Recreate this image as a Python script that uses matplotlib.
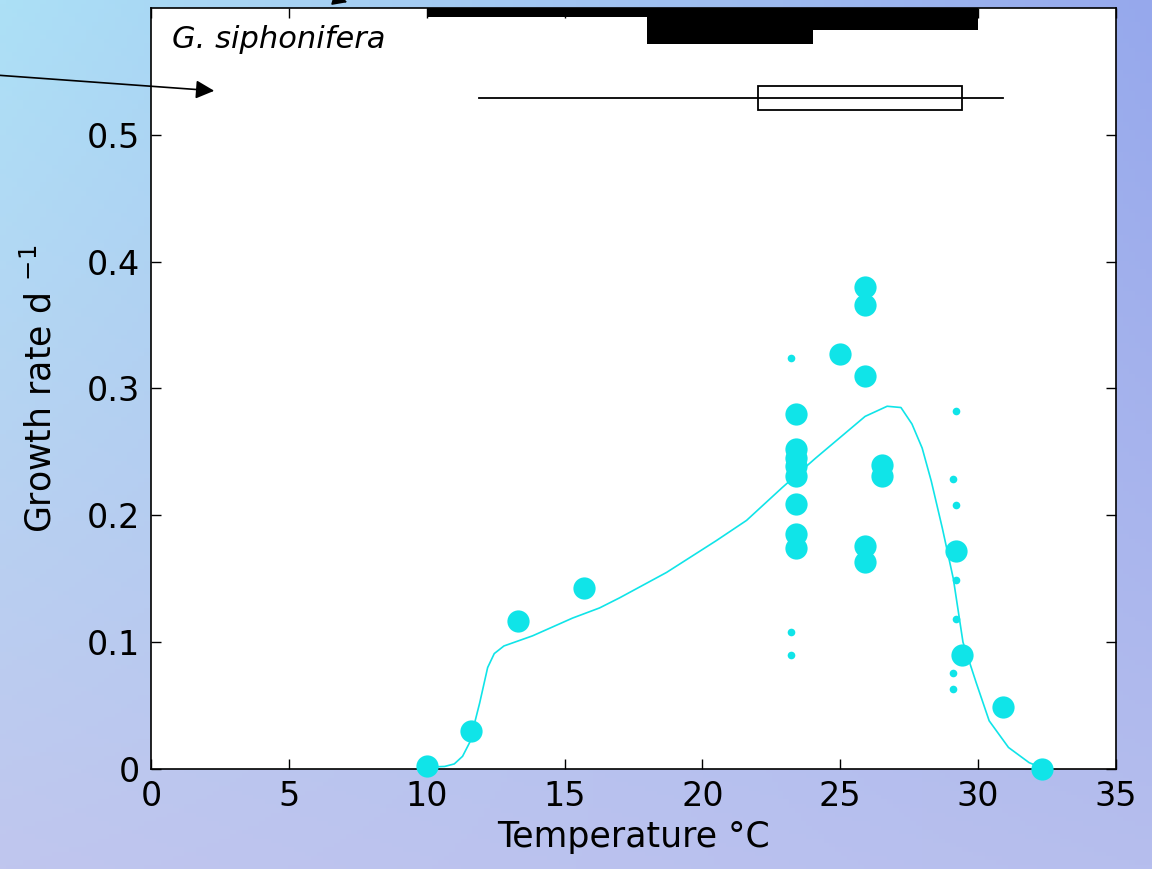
import numpy as np
import matplotlib.pyplot as plt
from matplotlib.patches import Rectangle

# growth measurements, big symbols
big_temp = [10.0, 11.6, 13.3, 15.7,
            23.4, 23.4, 23.4, 23.4, 23.4, 23.4, 23.4, 23.4,
            25.0, 25.9, 25.9, 25.9, 25.9, 25.9,
            26.5, 26.5, 29.2, 29.4, 30.9, 32.3]
big_rate = [0.002, 0.030, 0.117, 0.143,
            0.280, 0.252, 0.245, 0.239, 0.231, 0.209, 0.185, 0.174,
            0.327, 0.380, 0.366, 0.310, 0.176, 0.163,
            0.240, 0.231, 0.172, 0.090, 0.049, 0.000]

# small symbols
small_temp = [23.2, 23.2, 23.2, 29.2, 29.1, 29.2, 29.2, 29.2, 29.1, 29.1]
small_rate = [0.324, 0.108, 0.090, 0.282, 0.229, 0.208, 0.149, 0.118, 0.076, 0.063]

# fitted growth curve
fit_temp = [10.0, 10.65, 11.0, 11.3, 11.56, 11.92, 12.21, 12.45, 12.8, 13.84, 15.29, 16.27,
            17.0, 18.7, 20.5, 21.6, 22.9, 24.1, 25.9, 26.7, 27.2, 27.6, 27.97,
            28.3, 28.7, 29.1, 29.45, 29.93, 30.4, 31.1, 31.85, 32.3]
fit_rate = [0.0015, 0.002, 0.004, 0.010, 0.021, 0.052, 0.080, 0.091, 0.097, 0.105, 0.119, 0.127,
            0.135, 0.155, 0.180, 0.196, 0.222, 0.245, 0.278, 0.286, 0.285, 0.272, 0.253,
            0.227, 0.190, 0.150, 0.100, 0.068, 0.038, 0.017, 0.005, 0.001]

# black bars along the top edge
bar_left = [10, 18, 24]
bar_right = [18, 24, 30]
bar_bottom = [0.593, 0.572, 0.583]

# box plot of temperature range
whisk_lo, box_lo, box_hi, whisk_hi = 11.9, 22.0, 29.4, 30.9
box_y, box_h = 0.529, 0.019

xticks = [0, 5, 10, 15, 20, 25, 30, 35]
yticks = [0, 0.1, 0.2, 0.3, 0.4, 0.5]

cyan = '#10e4e8'

fig = plt.figure(figsize=(11.52, 8.69), dpi=100)

# slide-like gradient background
bg = fig.add_axes([0, 0, 1, 1], zorder=-5)
tl = np.array([172, 224, 246]) / 255
tr = np.array([150, 168, 236]) / 255
bl = np.array([192, 198, 238]) / 255
br = np.array([182, 190, 238]) / 255
u = np.linspace(0, 1, 200)[None, :, None]
v = np.linspace(0, 1, 200)[:, None, None]
grad = (1 - v) * ((1 - u) * tl + u * tr) + v * ((1 - u) * bl + u * br)
bg.imshow(grad, aspect='auto', extent=[0, 1, 0, 1])
bg.axis('off')

ax = fig.add_axes([151 / 1152, 100 / 869, 965 / 1152, 761 / 869])
ax.set_facecolor('white')

ax.plot(fit_temp, fit_rate, color=cyan, lw=1.2, zorder=3)
ax.plot(big_temp, big_rate, 'o', color=cyan, ms=16, mec='none', zorder=4, clip_on=False)
ax.plot(small_temp, small_rate, 'o', color=cyan, ms=5.5, mec='none', zorder=4)

for l, r, b in zip(bar_left, bar_right, bar_bottom):
    ax.bar(l, 0.6 - b, width=r - l, bottom=b, align='edge', color='black', zorder=5)

ax.plot([whisk_lo, whisk_hi], [box_y, box_y], color='black', lw=1.3)
ax.add_patch(Rectangle((box_lo, box_y - box_h / 2), box_hi - box_lo, box_h,
                       fill=False, ec='black', lw=1.3))

ax.text(0.75, 0.575, 'G. siphonifera', fontsize=22, style='italic', va='center')

ax.set_xlim(0, 35)
ax.set_ylim(0, 0.6)
ax.set_xticks(xticks)
ax.set_yticks(yticks)
ax.set_xticklabels([str(t) for t in xticks])
ax.set_yticklabels(['0', '0.1', '0.2', '0.3', '0.4', '0.5'])
ax.tick_params(direction='in', top=True, right=True, length=7, width=1,
               labelsize=24, pad=8)
for s in ax.spines.values():
    s.set_linewidth(1.2)

ax.set_xlabel('Temperature °C', fontsize=25, labelpad=5)
ax.set_ylabel(r'Growth rate d $^{-1}$', fontsize=25, labelpad=20)

# arrows coming from outside the plot
ax.annotate('', xy=(217, 869 - 91), xycoords='figure pixels',
            xytext=(-5, 869 - 75), textcoords='figure pixels',
            arrowprops=dict(arrowstyle='-|>', color='black', lw=1.2, mutation_scale=28),
            annotation_clip=False)
ax.annotate('', xy=(350, 869 - 3), xycoords='figure pixels',
            xytext=(290, 869 + 15), textcoords='figure pixels',
            arrowprops=dict(arrowstyle='-|>', color='black', lw=1.2, mutation_scale=22),
            annotation_clip=False)

fig.savefig('out.png', dpi=100)
